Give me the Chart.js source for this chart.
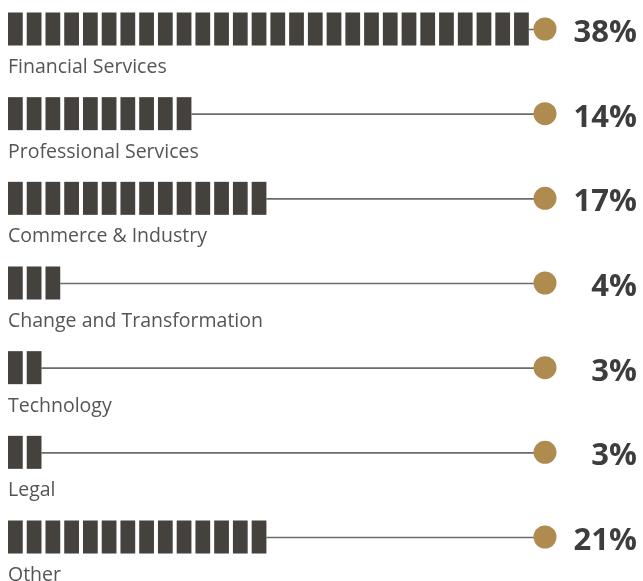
<!DOCTYPE html>
<html>
<head>
<meta charset="utf-8">
<script src="https://cdn.jsdelivr.net/npm/chart.js@4/dist/chart.umd.min.js"></script>
<style>
  html, body { margin: 0; padding: 0; background: #fff; }
  #wrap { width: 643px; height: 581px; }
</style>
</head>
<body>
<div id="wrap"><canvas id="sectors"></canvas></div>
<script>
// Sector split
const sectors = [
  'Financial Services',
  'Professional Services',
  'Commerce & Industry',
  'Change and Transformation',
  'Technology',
  'Legal',
  'Other'
];
const percents = [38, 14, 17, 4, 3, 3, 21];
// number of blocks drawn in each bar
const blocks = [28, 10, 14, 3, 2, 2, 14];
const blockScaleMax = 28.65;

const BAR_COLOR = '#45413d';
const GOLD = '#b08b50';
const LINE_COLOR = '#6b6b6b';

// draws segmented bars, connector lines, end dots and text
const blockBars = {
  id: 'blockBars',
  afterDatasetsDraw(chart) {
    const ctx = chart.ctx;
    const xs = chart.scales.x;
    const meta = chart.getDatasetMeta(0);
    const gap = 4;
    const endX = xs.getPixelForValue(blockScaleMax);

    meta.data.forEach((bar, i) => {
      const h = bar.height;
      const y = bar.y;
      const count = chart.data.datasets[0].data[i];
      const barEnd = xs.getPixelForValue(count);

      ctx.save();
      // connector
      ctx.strokeStyle = LINE_COLOR;
      ctx.lineWidth = 1.6;
      ctx.beginPath();
      ctx.moveTo(barEnd - gap, y + 0.5);
      ctx.lineTo(endX, y + 0.5);
      ctx.stroke();

      // blocks
      ctx.fillStyle = BAR_COLOR;
      for (let k = 0; k < count; k++) {
        const x0 = xs.getPixelForValue(k);
        const x1 = xs.getPixelForValue(k + 1) - gap;
        ctx.fillRect(x0, y - h / 2, x1 - x0, h);
      }

      // dot
      ctx.fillStyle = GOLD;
      ctx.beginPath();
      ctx.arc(endX, y, 11.5, 0, Math.PI * 2);
      ctx.fill();

      // percentage
      ctx.fillStyle = '#3d3d3d';
      ctx.font = 'bold 31px "Open Sans", sans-serif';
      ctx.textAlign = 'right';
      ctx.textBaseline = 'alphabetic';
      ctx.fillText(percents[i] + '%', 637, y + 13);

      // category name
      ctx.fillStyle = '#555555';
      ctx.font = '19.5px "Open Sans", sans-serif';
      ctx.textAlign = 'left';
      ctx.fillText(chart.data.labels[i], xs.getPixelForValue(0), y + 44);
      ctx.restore();
    });
  }
};

new Chart(document.getElementById('sectors'), {
  type: 'bar',
  data: {
    labels: sectors,
    datasets: [{
      data: blocks,
      backgroundColor: 'rgba(0,0,0,0)',
      barThickness: 33
    }]
  },
  options: {
    indexAxis: 'y',
    responsive: true,
    maintainAspectRatio: false,
    animation: false,
    layout: { padding: { left: 8, right: 98, top: 29, bottom: 44 } },
    scales: {
      x: { display: false, min: 0, max: blockScaleMax },
      y: { display: false, offset: false, grid: { offset: false } }
    },
    plugins: {
      legend: { display: false },
      tooltip: { enabled: false }
    }
  },
  plugins: [blockBars]
});
</script>
</body>
</html>
